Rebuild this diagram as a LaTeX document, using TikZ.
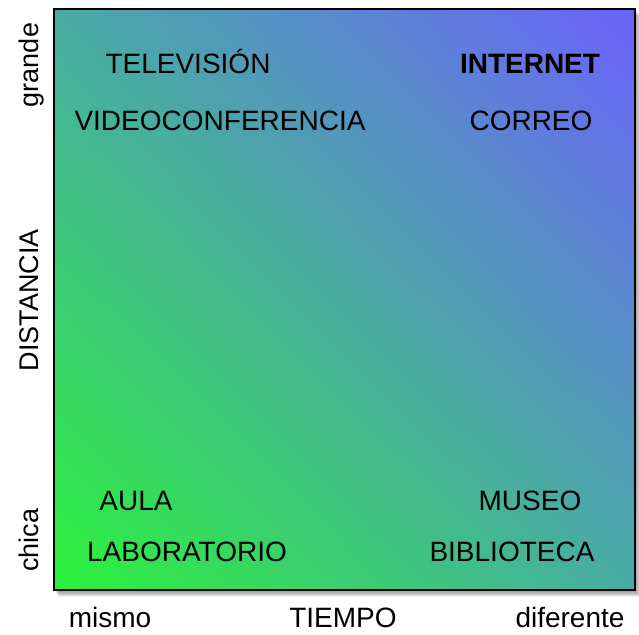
\documentclass[tikz,border=0pt]{standalone}
\usepackage{fontspec}
\setmainfont{Liberation Sans}
\usetikzlibrary{shadings}
\definecolor{cgreen}{RGB}{44,242,58}
\definecolor{cblue}{RGB}{108,98,252}
\definecolor{cmid}{RGB}{72,172,164}
\tikzset{
  lbl/.style={font=\fontsize{28}{32}\selectfont, inner sep=0pt, anchor=base},
  axl/.style={font=\fontsize{27}{32}\selectfont, inner sep=0pt, rotate=90, anchor=base},
}
\begin{document}
\begin{tikzpicture}[x=1pt,y=1pt]
\useasboundingbox (0,0) rectangle (639,-634);
% soft shadow
\foreach \i in {1,...,8}{
  \fill[black, opacity=0.06] (54+\i*0.6,-9-\i*0.9) rectangle (635+\i*0.8,-590-\i*0.9);
}
\shade[lower left=cgreen, upper right=cblue, upper left=cmid, lower right=cmid] (54,-9) rectangle (635,-590);
\draw[line width=1.4pt] (54,-9) rectangle (635,-590);
\node[lbl] (tv) at (188,-74) {TELEVISIÓN};
\node[lbl] (vc) at (220,-130) {VIDEOCONFERENCIA};
\node[lbl, font=\fontsize{28}{32}\selectfont\bfseries] (in) at (530,-74) {INTERNET};
\node[lbl] (co) at (531,-130) {CORREO};
\node[lbl] (au) at (136,-510) {AULA};
\node[lbl] (la) at (187,-561) {LABORATORIO};
\node[lbl] (mu) at (530,-510) {MUSEO};
\node[lbl] (bi) at (512,-561) {BIBLIOTECA};
\node[lbl] (mi) at (110,-627.5) {mismo};
\node[lbl] (ti) at (343,-627.5) {TIEMPO};
\node[lbl] (di) at (570,-627.5) {diferente};
\node[axl] (gra) at (38,-65) {grande};
\node[axl] (ds) at (38,-300) {DISTANCIA};
\node[axl] (ch) at (38,-540) {chica};
\end{tikzpicture}
\end{document}
